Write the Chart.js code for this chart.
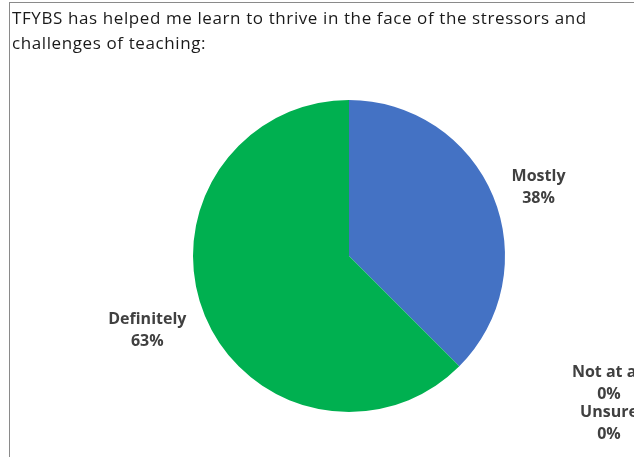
<!DOCTYPE html>
<html>
<head>
<meta charset="utf-8">
<script src="https://cdn.jsdelivr.net/npm/chart.js@4.4.1/dist/chart.umd.min.js"></script>
<style>
    html, body { margin: 0; padding: 0; background: #fff; }
    #frame {
        position: absolute; left: 9px; top: 2px; width: 625px; height: 455px;
        border-left: 1px solid #8a8a8a; border-top: 1px solid #8a8a8a;
    }
    #title {
        position: absolute; left: 12px; top: 5px; width: 620px;
        font-family: "Open Sans", sans-serif; font-size: 17px; letter-spacing: 0.6px;
        line-height: 25px; color: #1a1a1a; white-space: nowrap;
    }
    #chartBox { position: absolute; left: 0; top: 0; width: 634px; height: 457px; }
</style>
</head>
<body>
<div id="chartBox"><canvas id="pieChart" width="634" height="457"></canvas></div>
<div id="frame"></div>
<div id="title">TFYBS has helped me learn to thrive in the face of the stressors and<br>challenges of teaching:</div>
<script>
// answers, in drawing order (clockwise from 12 o'clock)
const categories = ['Mostly', 'Definitely', 'Not at all', 'Unsure'];
const shares = [37.5, 62.5, 0, 0];   // percent of respondents
const sliceColors = ['#4472C4', '#00B050', '#A5A5A5', '#FFC000'];

// outside data labels, roughly where Excel put them
const outsideLabels = {
    id: 'outsideLabels',
    afterDatasetsDraw(chart) {
        const ctx = chart.ctx;
        const meta = chart.getDatasetMeta(0);
        const area = chart.chartArea;
        ctx.save();
        ctx.font = 'bold 16px "Open Sans", sans-serif';
        ctx.fillStyle = '#404040';
        ctx.textAlign = 'center';
        ctx.textBaseline = 'middle';
        let zeroIdx = 0;
        meta.data.forEach((arc, i) => {
            const pct = Math.round(shares[i]) + '%';
            let x, y;
            if (shares[i] > 0) {
                const mid = (arc.startAngle + arc.endAngle) / 2;
                const dx = Math.cos(mid), dy = Math.sin(mid);
                const halfW = Math.max(ctx.measureText(categories[i]).width, ctx.measureText(pct).width) / 2;
                x = arc.x + dx * (arc.outerRadius + 20) + Math.sign(dx) * halfW;
                y = arc.y + dy * (arc.outerRadius + 31) + 3;
            } else {
                // empty slices get stacked down the right-hand side
                x = area.right + 104;
                y = area.bottom - 29 + zeroIdx * 40;
                zeroIdx++;
            }
            ctx.fillText(categories[i], x, y - 11);
            ctx.fillText(pct, x, y + 11);
        });
        ctx.restore();
    }
};

const ctx = document.getElementById('pieChart').getContext('2d');
new Chart(ctx, {
    type: 'pie',
    data: {
        labels: categories,
        datasets: [{
            data: shares,
            backgroundColor: sliceColors,
            borderWidth: 0
        }]
    },
    options: {
        responsive: false,
        animation: false,
        layout: {
            padding: { left: 193, right: 129, top: 100, bottom: 45 }
        },
        plugins: {
            legend: { display: false },
            tooltip: { enabled: false }
        }
    },
    plugins: [outsideLabels]
});
</script>
</body>
</html>
